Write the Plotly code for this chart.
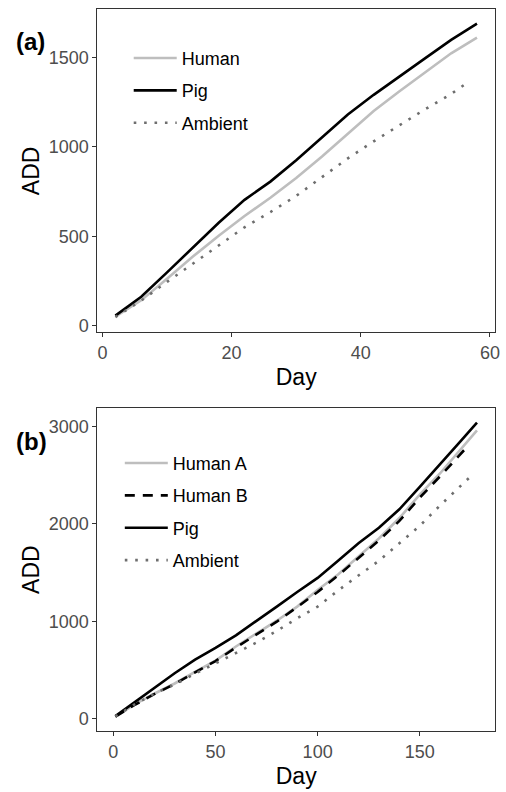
import plotly.graph_objects as go

# Panel (a)
days_a = [2, 6, 10, 14, 18, 22, 26, 30, 34, 38, 42, 46, 50, 54, 58]
human_a = [50, 142, 262, 386, 503, 613, 715, 825, 945, 1075, 1200, 1310, 1415, 1522, 1610]
pig_a = [56, 162, 298, 437, 575, 703, 805, 925, 1055, 1180, 1290, 1395, 1495, 1597, 1688]
days_amb_a = [2, 6, 10, 14, 18, 22, 26, 30, 34, 38, 42, 46, 50, 54, 56]
ambient_a = [48, 140, 245, 345, 450, 550, 635, 725, 830, 935, 1030, 1120, 1210, 1295, 1345]

# Panel (b)
days_b = [1, 10, 20, 30, 40, 50, 60, 70, 80, 90, 100, 110, 120, 130, 140, 150, 160, 170, 178]
humanA_b = [20, 140, 255, 360, 480, 595, 740, 875, 1005, 1150, 1320, 1480, 1660, 1850, 2060, 2300, 2520, 2760, 2960]
days_hb_b = [1, 10, 20, 30, 40, 50, 60, 70, 80, 90, 100, 110, 120, 130, 140, 150, 160, 170, 174]
humanB_b = [20, 135, 250, 355, 475, 590, 730, 865, 995, 1145, 1300, 1470, 1650, 1830, 2030, 2270, 2490, 2720, 2810]
pig_b = [25, 160, 315, 465, 605, 725, 855, 1000, 1150, 1300, 1445, 1620, 1800, 1960, 2150, 2380, 2620, 2850, 3040]
days_amb_b = [1, 10, 20, 30, 40, 50, 60, 70, 80, 90, 100, 110, 120, 130, 140, 150, 160, 170, 176]
ambient_b = [20, 140, 255, 350, 460, 565, 670, 780, 900, 1030, 1150, 1315, 1470, 1620, 1800, 1980, 2190, 2390, 2510]

FONT = "Liberation Sans, Arial, sans-serif"
GRAY = "#BEBEBE"
DOTC = "#6E6E6E"
LW = 2.6
DOT = "2.6px,7.8px"
DASH = "10px,8px"

fig = go.Figure()

def add(x, y, name, color, dash, xa, ya, leg, grp):
    fig.add_trace(go.Scatter(
        x=x, y=y, name=name, mode="lines",
        line=dict(color=color, width=LW, dash=dash),
        xaxis=xa, yaxis=ya, legend=leg, legendgroup=grp,
    ))

add(days_a, human_a, "Human", GRAY, "solid", "x", "y", "legend", "a1")
add(days_a, pig_a, "Pig", "black", "solid", "x", "y", "legend", "a2")
add(days_amb_a, ambient_a, "Ambient", DOTC, DOT, "x", "y", "legend", "a3")

add(days_b, humanA_b, "Human A", GRAY, "solid", "x2", "y2", "legend2", "b1")
add(days_hb_b, humanB_b, "Human B", "black", DASH, "x2", "y2", "legend2", "b2")
add(days_b, pig_b, "Pig", "black", "solid", "x2", "y2", "legend2", "b3")
add(days_amb_b, ambient_b, "Ambient", DOTC, DOT, "x2", "y2", "legend2", "b4")

W, H = 506, 792
xdom = [98.3 / W, 500 / W]
ydom_a = [1 - 334 / H, 1 - 9.5 / H]
ydom_b = [1 - 735 / H, 1 - 410 / H]

axis_common = dict(
    showline=True, linecolor="#333333", linewidth=1.1, mirror=True,
    ticks="outside", ticklen=4, tickwidth=1.1, tickcolor="#333333",
    showgrid=False, zeroline=False,
    tickfont=dict(family=FONT, size=18, color="#4D4D4D"),
    ticklabelstandoff=0,
)
title_font = dict(family=FONT, size=23, color="black")

leg_common = dict(
    xanchor="left", yanchor="top", bgcolor="rgba(0,0,0,0)",
    font=dict(family=FONT, size=18, color="black"),
    itemwidth=43, tracegroupgap=6, traceorder="grouped",
)

fig.update_layout(
    width=W, height=H,
    margin=dict(l=0, r=0, t=0, b=0),
    paper_bgcolor="white", plot_bgcolor="white",
    showlegend=True,
    xaxis=dict(domain=xdom, anchor="y", range=[-0.8, 60.8], tickvals=[0, 20, 40, 60],
               title=dict(text="Day", font=title_font, standoff=6), **axis_common),
    yaxis=dict(domain=ydom_a, anchor="x", range=[-37, 1767], tickvals=[0, 500, 1000, 1500],
               title=dict(text="ADD", font=title_font, standoff=2), **axis_common),
    xaxis2=dict(domain=xdom, anchor="y2", range=[-7.85, 186.85], tickvals=[0, 50, 100, 150],
                title=dict(text="Day", font=title_font, standoff=6), **axis_common),
    yaxis2=dict(domain=ydom_b, anchor="x2", range=[-131, 3191], tickvals=[0, 1000, 2000, 3000],
                title=dict(text="ADD", font=title_font, standoff=2), **axis_common),
    legend=dict(x=130 / W, y=1 - 40 / H, **leg_common),
    legend2=dict(x=121 / W, y=1 - 447 / H, **leg_common),
    annotations=[
        dict(text="<b>(a)</b>", x=14 / W, y=1 - 42 / H, xref="paper", yref="paper",
             xanchor="left", yanchor="middle", showarrow=False,
             font=dict(family=FONT, size=24, color="black")),
        dict(text="<b>(b)</b>", x=14 / W, y=1 - 444 / H, xref="paper", yref="paper",
             xanchor="left", yanchor="middle", showarrow=False,
             font=dict(family=FONT, size=24, color="black")),
    ],
)

fig.write_html("out.html")
